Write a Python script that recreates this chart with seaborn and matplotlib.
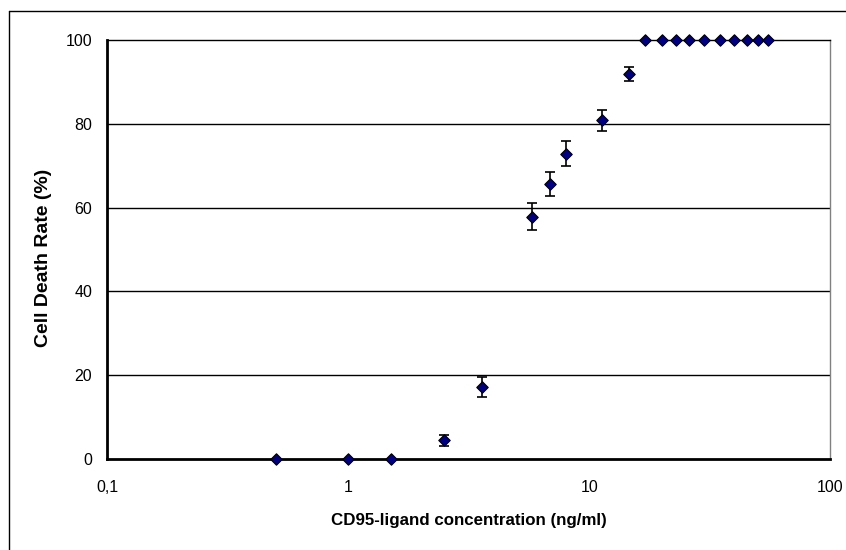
import matplotlib
matplotlib.use("Agg")
import matplotlib.pyplot as plt
from matplotlib.lines import Line2D
from matplotlib.ticker import FixedLocator, FixedFormatter, NullLocator
import seaborn as sns
import pandas as pd

# Data
concentration = [0.5, 1.0, 1.5, 2.5, 3.6, 5.8, 6.9, 8.0, 11.3, 14.6,
                 17, 20, 23, 26, 30, 35, 40, 45, 50, 55]
death_rate = [0, 0, 0, 4.5, 17.1, 57.8, 65.6, 72.9, 80.9, 91.9,
              100, 100, 100, 100, 100, 100, 100, 100, 100, 100]
error = [0, 0, 0, 1.3, 2.4, 3.2, 2.8, 2.9, 2.5, 1.7,
         0, 0, 0, 0, 0, 0, 0, 0, 0, 0]

x_ticks = [0.1, 1, 10, 100]
x_tick_labels = ["0,1", "1", "10", "100"]
y_ticks = [0, 20, 40, 60, 80, 100]
y_tick_labels = ["0", "20", "40", "60", "80", "100"]

df = pd.DataFrame({"conc": concentration, "rate": death_rate, "err": error})

sns.set_theme(style="white")
plt.rcParams["font.family"] = ["Liberation Sans", "DejaVu Sans"]
plt.rcParams["text.color"] = "black"
plt.rcParams["axes.labelcolor"] = "black"

W, H = 846, 550
fig = plt.figure(figsize=(W / 100, H / 100), dpi=100)
fig.patch.set_facecolor("white")

left, right, top, bottom = 107.3, 830.3, 40, 459
ax = fig.add_axes([left / W, 1 - bottom / H, (right - left) / W, (bottom - top) / H])
ax.set_facecolor("white")

ax.set_xscale("log")
ax.set_xlim(0.1, 100)
ax.set_ylim(0, 100)

# horizontal gridlines
for yv in y_ticks[1:-1]:
    ax.axhline(yv, color="black", lw=1.0, zorder=1)

# error bars
e = df[df["err"] > 0]
ax.errorbar(e["conc"], e["rate"], yerr=e["err"], fmt="none", ecolor="black",
            elinewidth=1.2, capsize=3.6, capthick=1.2, zorder=3)

sns.scatterplot(data=df, x="conc", y="rate", marker="D", s=34,
                color="#000080", edgecolor="black", linewidth=0.8,
                ax=ax, zorder=5, clip_on=False, legend=False)

ax.xaxis.set_major_locator(FixedLocator(x_ticks))
ax.xaxis.set_major_formatter(FixedFormatter(x_tick_labels))
ax.xaxis.set_minor_locator(NullLocator())
ax.yaxis.set_major_locator(FixedLocator(y_ticks))
ax.yaxis.set_major_formatter(FixedFormatter(y_tick_labels))

ax.tick_params(axis="both", which="major", direction="out", length=4,
               width=1, color="#555555", labelsize=11.5, labelcolor="black")
ax.tick_params(axis="x", pad=11)
ax.tick_params(axis="y", pad=7)

for side in ["left", "bottom"]:
    ax.spines[side].set_color("black")
    ax.spines[side].set_linewidth(2.0)
ax.spines["top"].set_color("black")
ax.spines["top"].set_linewidth(1.0)
ax.spines["right"].set_color("#808080")
ax.spines["right"].set_linewidth(1.0)
ax.spines["bottom"].set_zorder(4)

ax.set_xlabel("CD95-ligand concentration (ng/ml)", fontsize=12.2, fontweight="bold", color="black")
ax.set_ylabel("Cell Death Rate (%)", fontsize=14, fontweight="bold", color="black")
ax.xaxis.label.set_va("center")
ax.xaxis.set_label_coords(0.5, (bottom - 521) / (bottom - top))
ax.yaxis.label.set_va("center")
ax.yaxis.set_label_coords((43 - left) / (right - left), (bottom - 258) / (bottom - top))

# outer chart border (left & top visible; right/bottom at the image edge)
bx0, by0 = 8.5 / W, 1 - 11 / H
fig.add_artist(Line2D([bx0, bx0], [0, by0], transform=fig.transFigure, color="black", lw=1.0))
fig.add_artist(Line2D([bx0, 1], [by0, by0], transform=fig.transFigure, color="black", lw=1.0))

fig.savefig("out.png", dpi=100, facecolor="white")
